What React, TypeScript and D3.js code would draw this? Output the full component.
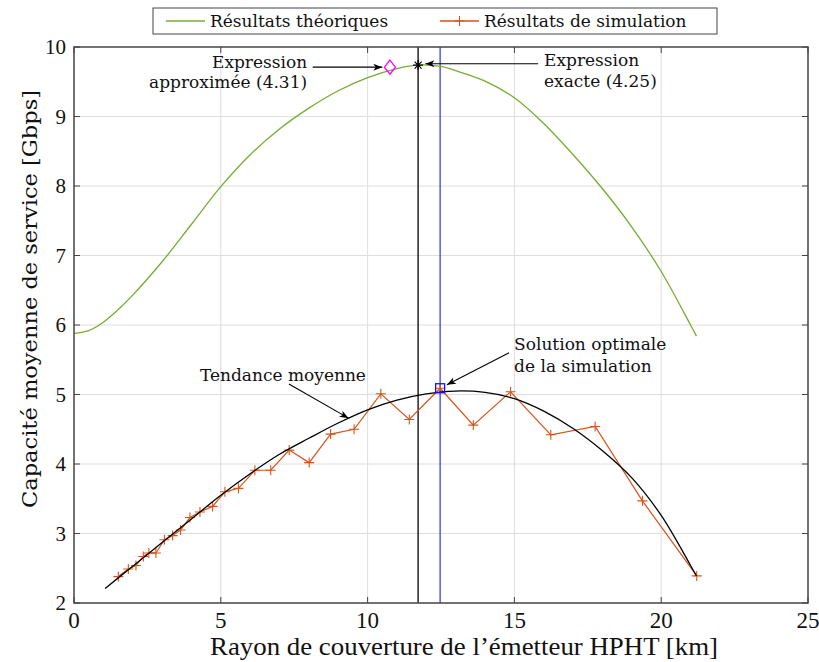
import React from 'react'
import * as d3 from 'd3'

// theoretical curve (Gbps vs km)
const theoX = [0, 0.5, 1, 1.5, 2, 3, 4, 5, 6, 7, 8, 9, 10, 11, 11.72, 12.5, 13, 14, 15, 16, 17, 18, 19, 20, 21, 21.2]
const theoY = [5.88, 5.92, 6.04, 6.22, 6.43, 6.91, 7.45, 7.99, 8.45, 8.82, 9.12, 9.37, 9.56, 9.69, 9.74, 9.72, 9.66, 9.51, 9.27, 8.9, 8.45, 7.96, 7.41, 6.77, 6.0, 5.84]

// simulation results
const simX = [1.51, 1.85, 2.11, 2.36, 2.55, 2.79, 3.08, 3.36, 3.63, 3.95, 4.29, 4.72, 5.14, 5.6, 6.16, 6.7, 7.33, 8.01, 8.74, 9.54, 10.45, 11.42, 12.47, 13.6, 14.87, 16.24, 17.75, 19.36, 21.21]
const simY = [2.38, 2.49, 2.54, 2.67, 2.72, 2.72, 2.91, 2.97, 3.05, 3.23, 3.31, 3.39, 3.6, 3.65, 3.91, 3.91, 4.2, 4.02, 4.43, 4.5, 5.01, 4.64, 5.09, 4.56, 5.04, 4.42, 4.54, 3.47, 2.39]

// mean trend (fit)
const trendX = [1.06, 2, 3, 4, 5, 6, 7, 8, 9, 10, 11, 12, 13, 14, 15, 16, 17, 18, 19, 20, 21, 21.2]
const trendY = [2.21, 2.53, 2.87, 3.21, 3.55, 3.86, 4.14, 4.37, 4.59, 4.78, 4.92, 5.01, 5.05, 5.03, 4.94, 4.76, 4.51, 4.19, 3.8, 3.26, 2.54, 2.39]

const xTicks = [0, 5, 10, 15, 20, 25]
const yTicks = [2, 3, 4, 5, 6, 7, 8, 9, 10]

const exactOpt = [11.72, 9.74]   // expression exacte (4.25)
const approxOpt = [10.76, 9.71]  // expression approximée (4.31)
const simOpt = [12.47, 5.09]     // solution optimale simulation

const legendLabels = ['Résultats théoriques', 'Résultats de simulation']

// annotations: text lines, anchor, arrow from -> to (data units)
const annotations = [
  { lines: ['Expression', 'approximée (4.31)'], x: 7.94, y: [9.7, 9.41], anchor: 'end', from: [8.13, 9.71], to: [10.5, 9.71] },
  { lines: ['Expression', 'exacte (4.25)'], x: 16.01, y: [9.73, 9.42], anchor: 'start', from: [15.81, 9.76], to: [11.97, 9.76] },
  { lines: ['Solution optimale', 'de la simulation'], x: 14.99, y: [5.64, 5.33], anchor: 'start', from: [14.82, 5.6], to: [12.7, 5.14] },
  { lines: ['Tendance moyenne'], x: 4.29, y: [5.19], anchor: 'start', from: [7.32, 5.15], to: [9.35, 4.66] },
]

const GREEN = '#77ac30'
const ORANGE = '#d95319'
const W = 819
const H = 662
const margin = { left: 74, right: 11, top: 47, bottom: 59 }

export default function App() {
  const x = d3.scaleLinear().domain([0, 25]).range([margin.left, W - margin.right])
  const y = d3.scaleLinear().domain([2, 10]).range([H - margin.bottom, margin.top])
  const [x0, x1] = x.range()
  const [y0, y1] = y.range()

  const smooth = d3.curveCatmullRom.alpha(0.5)
  const theoPath = d3.line<number>().curve(smooth).x(i => x(theoX[i])).y(i => y(theoY[i]))(d3.range(theoX.length))
  const trendPath = d3.line<number>().curve(smooth).x(i => x(trendX[i])).y(i => y(trendY[i]))(d3.range(trendX.length))
  const simPath = d3.line<number>().x(i => x(simX[i])).y(i => y(simY[i]))(d3.range(simX.length))

  const plus = (cx, cy, r = 5) => `M${cx - r},${cy}H${cx + r}M${cx},${cy - r}V${cy + r}`
  const star = (cx, cy, r = 5) => plus(cx, cy, r) + `M${cx - r * 0.7},${cy - r * 0.7}L${cx + r * 0.7},${cy + r * 0.7}M${cx - r * 0.7},${cy + r * 0.7}L${cx + r * 0.7},${cy - r * 0.7}`

  const serif = '"DejaVu Serif", serif'
  const times = '"Liberation Serif", serif'

  return (
    <svg width={W} height={H} style={{ position: 'absolute', left: 0, top: 0, background: '#fff' }}>
      <defs>
        <marker id="ah" markerWidth={12} markerHeight={10} refX={0} refY={0} viewBox="-10 -5 12 10" orient="auto" markerUnits="userSpaceOnUse">
          <path d="M0,0L-9,-3.5L-6.5,0L-9,3.5Z" fill="#000" />
        </marker>
        <clipPath id="plot"><rect x={x0} y={y1} width={x1 - x0} height={y0 - y1} /></clipPath>
      </defs>
      <rect width={W} height={H} fill="#fff" />

      {/* grid */}
      <g stroke="#dedede" strokeWidth={1}>
        {xTicks.slice(1, -1).map(t => <line key={'gx' + t} x1={x(t)} x2={x(t)} y1={y0} y2={y1} />)}
        {yTicks.slice(1, -1).map(t => <line key={'gy' + t} x1={x0} x2={x1} y1={y(t)} y2={y(t)} />)}
      </g>

      {/* ticks inside */}
      <g stroke="#444" strokeWidth={1}>
        {xTicks.map(t => <g key={'tx' + t}>
          <line x1={x(t)} x2={x(t)} y1={y0} y2={y0 - 6} />
          <line x1={x(t)} x2={x(t)} y1={y1} y2={y1 + 6} />
        </g>)}
        {yTicks.map(t => <g key={'ty' + t}>
          <line x1={x0} x2={x0 + 6} y1={y(t)} y2={y(t)} />
          <line x1={x1} x2={x1 - 6} y1={y(t)} y2={y(t)} />
        </g>)}
      </g>

      {/* vertical optimum lines */}
      <line x1={x(exactOpt[0])} x2={x(exactOpt[0])} y1={y0} y2={y1} stroke="#000" strokeWidth={1.3} />
      <line x1={x(simOpt[0])} x2={x(simOpt[0])} y1={y0} y2={y1} stroke="#3b3bff" strokeWidth={1.3} />

      <g clipPath="url(#plot)">
        <path d={theoPath} fill="none" stroke={GREEN} strokeWidth={1.3} />
        <path d={simPath} fill="none" stroke={ORANGE} strokeWidth={1.2} />
        {simX.map((v, i) => <path key={'s' + i} d={plus(x(v), y(simY[i]))} stroke={ORANGE} strokeWidth={1.1} fill="none" />)}
        <path d={trendPath} fill="none" stroke="#000" strokeWidth={1.3} />
      </g>

      {/* optimum markers */}
      <path d={star(x(exactOpt[0]), y(exactOpt[1]))} stroke="#000" strokeWidth={1.2} fill="none" />
      <path d={`M${x(approxOpt[0])},${y(approxOpt[1]) - 7}l5.5,7l-5.5,7l-5.5,-7Z`} stroke="#ff00ff" strokeWidth={1.3} fill="none" />
      <rect x={x(simOpt[0]) - 4.5} y={y(simOpt[1]) - 4.5} width={9} height={9} stroke="#1010ff" strokeWidth={1.3} fill="none" />

      {/* axes box */}
      <rect x={x0} y={y1} width={x1 - x0} height={y0 - y1} fill="none" stroke="#444" strokeWidth={1.5} />

      {/* tick labels */}
      <g fontFamily={times} fontSize={23} fill="#111" textAnchor="middle">
        {xTicks.map(t => <text key={'lx' + t} x={x(t)} y={y0 + 25}>{t}</text>)}
      </g>
      <g fontFamily={times} fontSize={21} fill="#111" textAnchor="end">
        {yTicks.map(t => <text key={'ly' + t} x={x0 - 8} y={y(t) + 7}>{t}</text>)}
      </g>

      {/* axis labels */}
      <text x={(x0 + x1) / 2 + 23} y={H - 7} fontFamily={times} fontSize={25} textAnchor="middle" fill="#111"
        textLength={508} lengthAdjust="spacingAndGlyphs">Rayon de couverture de l’émetteur HPHT [km]</text>
      <text transform={`translate(37,${(y0 + y1) / 2 - 26}) rotate(-90)`} fontFamily={serif} fontSize={21} textAnchor="middle" fill="#111"
        textLength={418} lengthAdjust="spacingAndGlyphs">Capacité moyenne de service [Gbps]</text>

      {/* annotations */}
      <g fontFamily={serif} fontSize={17} fill="#111">
        {annotations.map((a, i) => <g key={'a' + i}>
          {a.lines.map((l, j) => <text key={j} x={x(a.x)} y={y(a.y[j])} textAnchor={a.anchor}>{l}</text>)}
          <line x1={x(a.from[0])} y1={y(a.from[1])} x2={x(a.to[0])} y2={y(a.to[1])} stroke="#000" strokeWidth={1.1} markerEnd="url(#ah)" />
        </g>)}
      </g>

      {/* legend */}
      <g>
        <rect x={153} y={8} width={564} height={26} fill="#fff" stroke="#444" strokeWidth={1} />
        <line x1={166} x2={205} y1={21} y2={21} stroke={GREEN} strokeWidth={1.3} />
        <text x={210} y={27} fontFamily={serif} fontSize={17} fill="#111">{legendLabels[0]}</text>
        <line x1={440} x2={479} y1={21} y2={21} stroke={ORANGE} strokeWidth={1.3} />
        <path d={plus(459.5, 21)} stroke={ORANGE} strokeWidth={1.1} />
        <text x={484} y={27} fontFamily={serif} fontSize={17} fill="#111">{legendLabels[1]}</text>
      </g>
    </svg>
  )
}
